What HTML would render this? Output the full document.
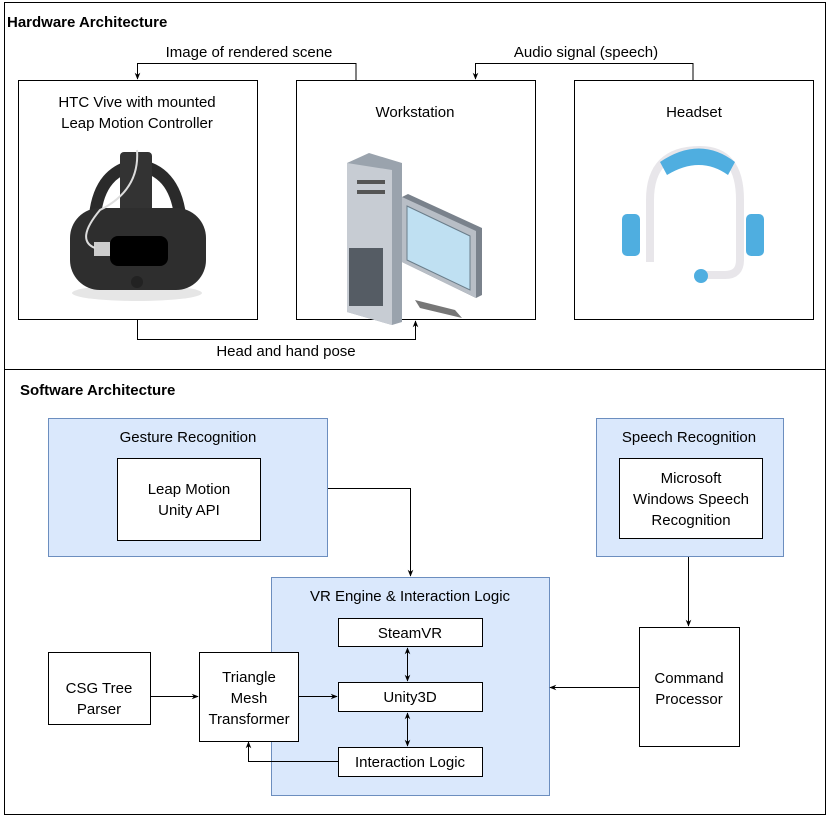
<!DOCTYPE html>
<html><head><style>
body{margin:0;background:#fff}
svg text{font-family:"Liberation Sans",Arial,sans-serif;font-size:15px;fill:#000}
</style></head><body>
<svg width="830" height="818" viewBox="0 0 830 818" xmlns="http://www.w3.org/2000/svg">
<defs>
<marker id="a" viewBox="0 0 10 10" refX="9" refY="5" markerWidth="7" markerHeight="7" orient="auto-start-reverse"><path d="M0,1 L10,5 L0,9 L3,5 Z" fill="#000"/></marker>
</defs>
<rect x="4.5" y="2.5" width="821" height="812" fill="#fff" stroke="#000"/>
<line x1="4" y1="369.5" x2="826" y2="369.5" stroke="#000"/>
<text x="7" y="27" style="font-weight:bold">Hardware Architecture</text>
<text x="20" y="395" style="font-weight:bold">Software Architecture</text>

<rect x="18.5" y="80.5" width="239" height="239" fill="#fff" stroke="#000"/>
<rect x="296.5" y="80.5" width="239" height="239" fill="#fff" stroke="#000"/>
<rect x="574.5" y="80.5" width="239" height="239" fill="#fff" stroke="#000"/>
<text x="137" y="107" text-anchor="middle">HTC Vive with mounted</text>
<text x="137" y="128" text-anchor="middle">Leap Motion Controller</text>
<text x="415" y="117" text-anchor="middle">Workstation</text>
<text x="694" y="117" text-anchor="middle">Headset</text>
<text x="249" y="57" text-anchor="middle">Image of rendered scene</text>
<text x="586" y="57" text-anchor="middle">Audio signal (speech)</text>
<text x="286" y="356" text-anchor="middle">Head and hand pose</text>
<polyline points="356,80 356,63.5 137.5,63.5 137.5,79" fill="none" stroke="#000" marker-end="url(#a)"/>
<polyline points="693,80 693,63.5 475.5,63.5 475.5,79" fill="none" stroke="#000" marker-end="url(#a)"/>
<polyline points="137.5,320 137.5,339.5 415.5,339.5 415.5,321" fill="none" stroke="#000" marker-end="url(#a)"/>

<g>
<ellipse cx="137" cy="293" rx="65" ry="8" fill="#e6e6e6"/>
<path d="M95,215 Q100,170 137,165 Q174,170 180,215" fill="none" stroke="#2a2a2a" stroke-width="12"/>
<rect x="120" y="152" width="32" height="60" rx="4" fill="#333"/>
<rect x="70" y="208" width="136" height="82" rx="30" fill="#2e2e2e"/>
<rect x="110" y="236" width="58" height="30" rx="8" fill="#000"/>
<rect x="94" y="242" width="16" height="14" fill="#ccc"/>
<path d="M137,150 Q140,190 100,210 Q75,240 95,248" fill="none" stroke="#ddd" stroke-width="2"/>
<circle cx="137" cy="282" r="6" fill="#222"/>
</g>

<g>
<polygon points="347,163 369,153 402,163 402,322 392,325 347,312" fill="#9aa3ad"/>
<polygon points="347,163 392,170 392,325 347,312" fill="#c7ccd3"/>
<rect x="357" y="180" width="28" height="4" fill="#555"/>
<rect x="357" y="190" width="28" height="4" fill="#555"/>
<rect x="349" y="248" width="34" height="58" fill="#555c64"/>
<polygon points="415,300 455,310 462,318 420,308" fill="#777"/>
<polygon points="402,197 408,194 482,228 482,295 476,298 402,262" fill="#7a828c"/>
<polygon points="402,197 476,231 476,298 402,262" fill="#b8bec6"/>
<polygon points="407,206 470,236 470,290 407,260" fill="#bfe0f2" stroke="#6a7d8a"/>
</g>

<g>
<path d="M650,262 L650,200 Q650,150 700,150 Q740,150 740,200 L740,260 Q740,275 725,275 L700,275" fill="none" stroke="#e8e6ea" stroke-width="8"/>
<path d="M660,162 Q700,135 735,162 L728,175 Q700,155 667,175 Z" fill="#4faee0"/>
<rect x="622" y="214" width="18" height="42" rx="5" fill="#4faee0"/>
<rect x="746" y="214" width="18" height="42" rx="5" fill="#4faee0"/>
<circle cx="701" cy="276" r="7" fill="#4faee0"/>
</g>

<g stroke="#6c8ebf" fill="#dae8fc">
<rect x="48.5" y="418.5" width="279" height="138"/>
<rect x="596.5" y="418.5" width="187" height="138"/>
<rect x="271.5" y="577.5" width="278" height="218"/>
</g>
<g stroke="#000" fill="#fff">
<rect x="117.5" y="458.5" width="143" height="82"/>
<rect x="619.5" y="458.5" width="143" height="80"/>
<rect x="338.5" y="618.5" width="144" height="28"/>
<rect x="338.5" y="682.5" width="144" height="29"/>
<rect x="338.5" y="747.5" width="144" height="29"/>
<rect x="48.5" y="652.5" width="102" height="72"/>
<rect x="199.5" y="652.5" width="99" height="89"/>
<rect x="639.5" y="627.5" width="100" height="119"/>
</g>
<text x="188" y="442" text-anchor="middle">Gesture Recognition</text>
<text x="689" y="442" text-anchor="middle">Speech Recognition</text>
<text x="410" y="601" text-anchor="middle">VR Engine &amp; Interaction Logic</text>
<text x="189" y="494" text-anchor="middle">Leap Motion</text>
<text x="189" y="515" text-anchor="middle">Unity API</text>
<text x="691" y="483" text-anchor="middle">Microsoft</text>
<text x="691" y="504" text-anchor="middle">Windows Speech</text>
<text x="691" y="525" text-anchor="middle">Recognition</text>
<text x="410" y="638" text-anchor="middle">SteamVR</text>
<text x="410" y="702" text-anchor="middle">Unity3D</text>
<text x="410" y="767" text-anchor="middle">Interaction Logic</text>
<text x="99" y="693" text-anchor="middle">CSG Tree</text>
<text x="99" y="714" text-anchor="middle">Parser</text>
<text x="249" y="682" text-anchor="middle">Triangle</text>
<text x="249" y="703" text-anchor="middle">Mesh</text>
<text x="249" y="724" text-anchor="middle">Transformer</text>
<text x="689" y="683" text-anchor="middle">Command</text>
<text x="689" y="704" text-anchor="middle">Processor</text>

<g fill="none" stroke="#000">
<polyline points="328,488.5 410.5,488.5 410.5,576" marker-end="url(#a)"/>
<line x1="688.5" y1="557" x2="688.5" y2="626" marker-end="url(#a)"/>
<line x1="639" y1="687.5" x2="550" y2="687.5" marker-end="url(#a)"/>
<line x1="151" y1="696.5" x2="198" y2="696.5" marker-end="url(#a)"/>
<line x1="299" y1="696.5" x2="337" y2="696.5" marker-end="url(#a)"/>
<line x1="407.5" y1="648" x2="407.5" y2="681" marker-start="url(#a)" marker-end="url(#a)"/>
<line x1="407.5" y1="713" x2="407.5" y2="746" marker-start="url(#a)" marker-end="url(#a)"/>
<polyline points="338,761.5 248.5,761.5 248.5,742" marker-end="url(#a)"/>
</g>
</svg>
</body></html>
